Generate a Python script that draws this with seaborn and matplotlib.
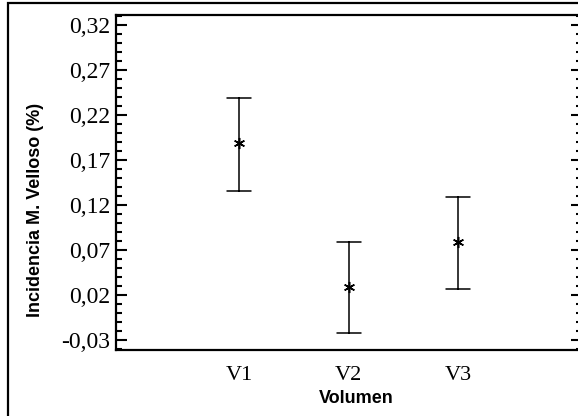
import numpy as np
import pandas as pd
import seaborn as sns
import matplotlib.pyplot as plt
from matplotlib.patches import Rectangle
from matplotlib.ticker import FixedLocator, MultipleLocator

volumen = ['V1', 'V2', 'V3']
media = [0.189, 0.029, 0.079]
limite_inf = [0.136, -0.022, 0.027]
limite_sup = [0.239, 0.079, 0.129]

y_ticks = [-0.03, 0.02, 0.07, 0.12, 0.17, 0.22, 0.27, 0.32]
y_labels = ['-0,03', '0,02', '0,07', '0,12', '0,17', '0,22', '0,27', '0,32']

# three rows per group: lower limit, mean, upper limit
data = pd.DataFrame({
    'Volumen': np.repeat(volumen, 3),
    'valor': np.ravel(np.column_stack([limite_inf, media, limite_sup])),
})

sns.set_style('white', {'text.color': 'black', 'axes.labelcolor': 'black',
                        'xtick.color': 'black', 'ytick.color': 'black'})
plt.rcParams['font.family'] = ['Liberation Serif', 'DejaVu Serif']

fig = plt.figure(figsize=(5.78, 4.16), dpi=100)
ax = fig.add_axes([116 / 578, 1 - 350 / 416, (582 - 116) / 578, (350 - 15) / 416])

sns.pointplot(data=data, x='Volumen', y='valor', estimator='median',
              errorbar=lambda v: (v.min(), v.max()), linestyle='none',
              color='black', marker=(6, 2, 0), markersize=8, markeredgewidth=1.1,
              capsize=0.22, err_kws={'linewidth': 1.1}, ax=ax)

ax.set_xlim(-1.123, 3.13)
ax.set_ylim(-0.0411, 0.3311)
ax.yaxis.set_major_locator(FixedLocator(y_ticks))
ax.set_yticklabels(y_labels)
ax.yaxis.set_minor_locator(MultipleLocator(0.01))
ax.tick_params(axis='y', which='major', direction='in', length=8, width=1.5,
               left=True, right=True, labelsize=17, pad=4)
ax.tick_params(axis='y', which='minor', direction='in', length=4, width=1.5,
               left=True, right=True)
ax.tick_params(axis='x', bottom=False, labelsize=16, pad=8)

for s in ax.spines.values():
    s.set_linewidth(1.6)
    s.set_color('black')

ax.set_xlabel('Volumen', family='Liberation Sans', fontweight='bold', fontsize=13)
ax.set_ylabel('Incidencia M. Velloso (%)', family='Liberation Sans', fontweight='bold',
              fontsize=13)
ax.xaxis.set_label_coords(0.515, -0.12)
ax.yaxis.set_label_coords(-0.155, 0.418)

fig.patches.append(Rectangle((8 / 578, -0.05), 1.0, 1.05 - 3 / 416, transform=fig.transFigure,
                             fill=False, edgecolor='black', linewidth=1.6))

fig.savefig('out.png', dpi=100)
